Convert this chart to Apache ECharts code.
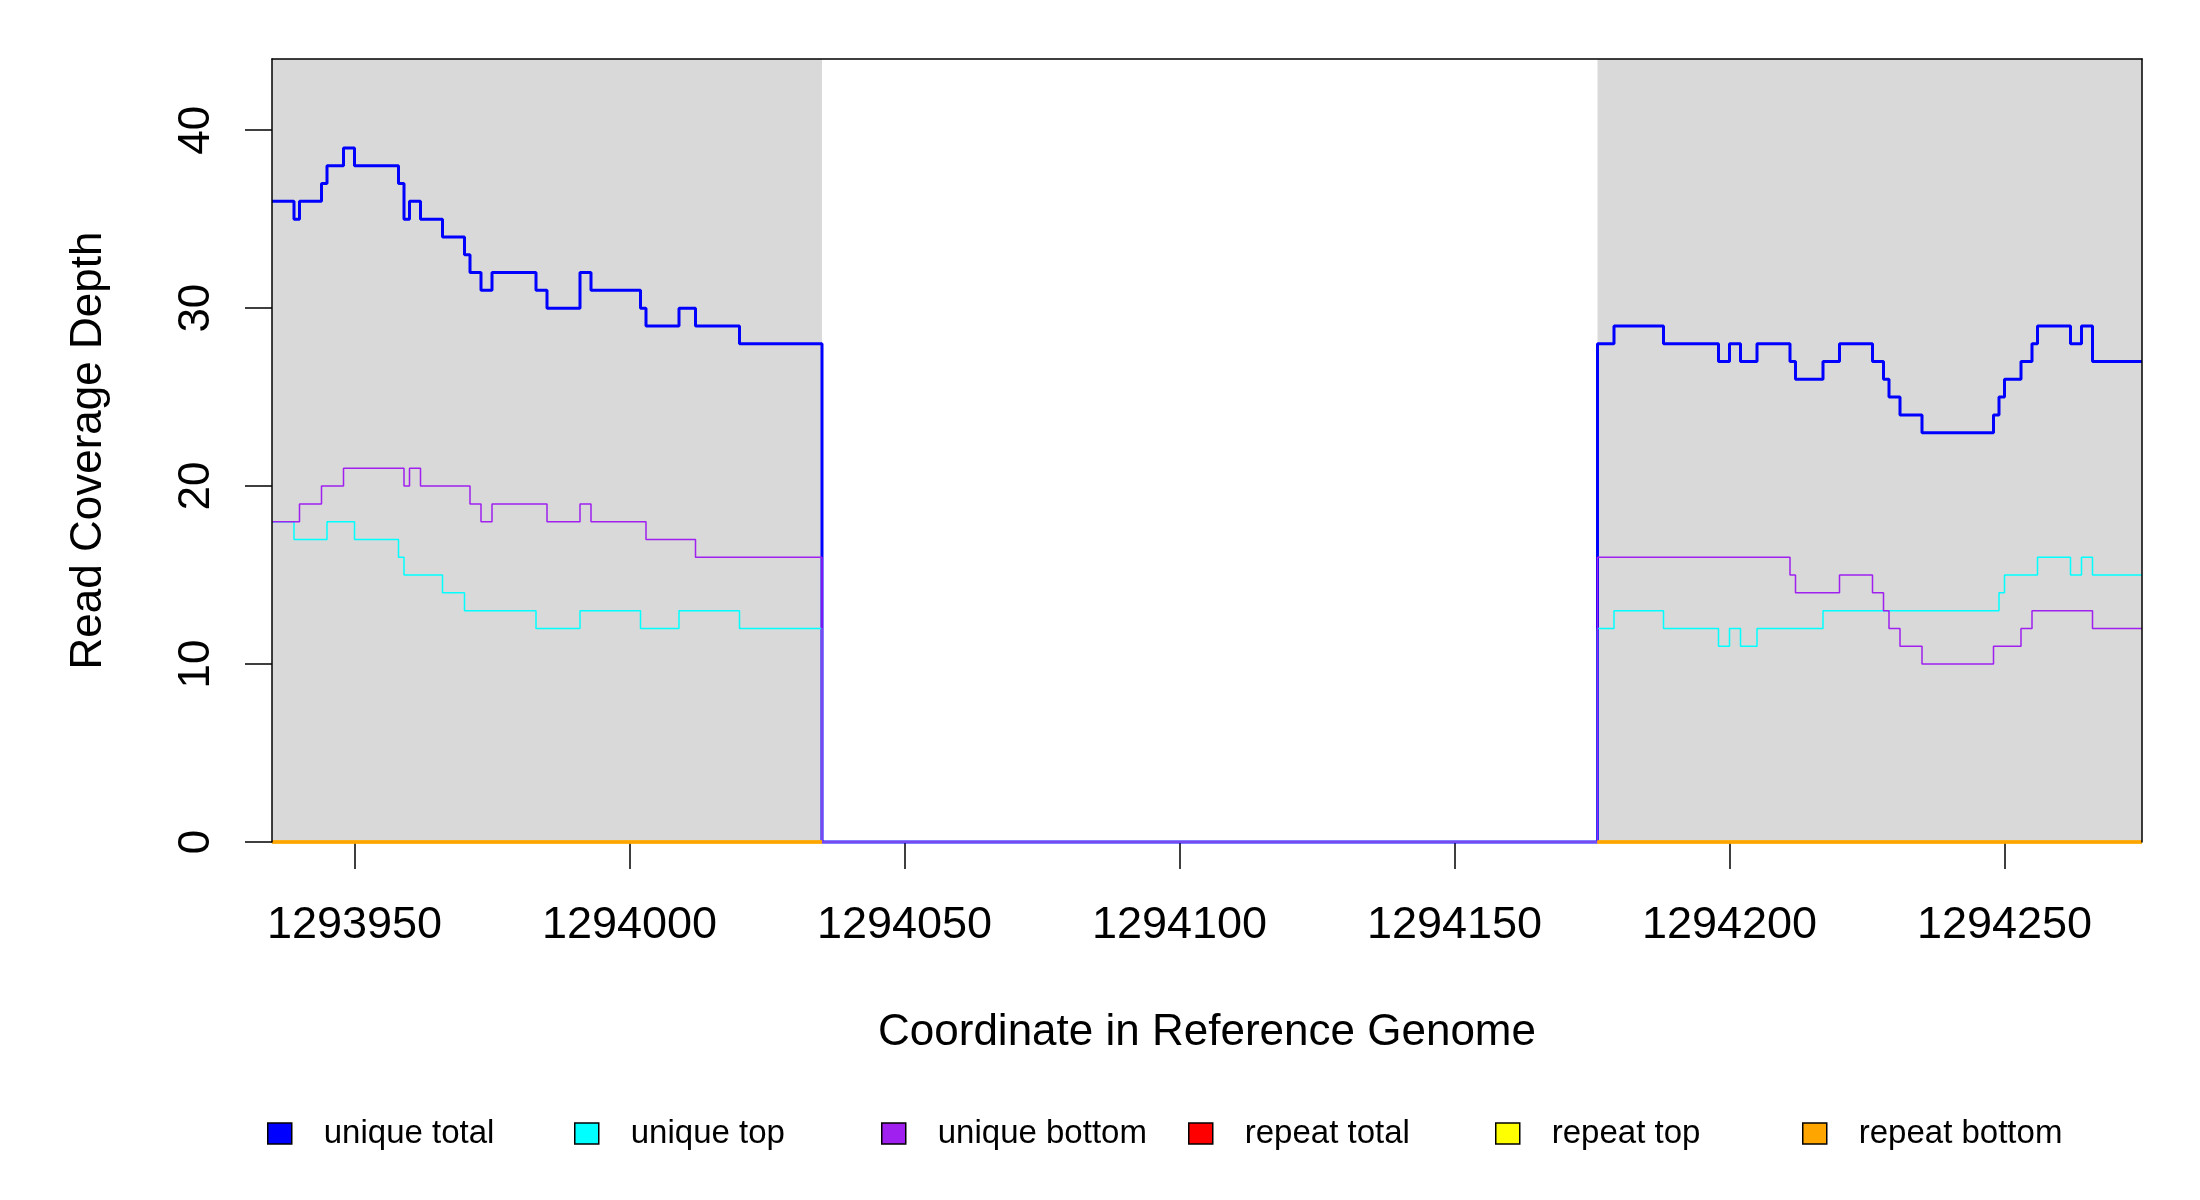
<!DOCTYPE html>
<html>
<head>
<meta charset="utf-8">
<title>Read Coverage Depth</title>
<script src="https://cdn.jsdelivr.net/npm/echarts@6/dist/echarts.min.js"></script>
<style>
  html, body { margin: 0; padding: 0; background: #fff; }
  #chart { width: 2200px; height: 1200px; }
</style>
</head>
<body>
<div id="chart"></div>
<script>
// coverage steps: position where the value starts, value from there on
const totalX = [1293935, 1293939, 1293940, 1293944, 1293945, 1293948, 1293950, 1293958, 1293959, 1293960,
  1293962, 1293966, 1293970, 1293971, 1293973, 1293975, 1293983, 1293985, 1293991, 1293993,
  1294002, 1294003, 1294009, 1294012, 1294020, 1294035, 1294176, 1294179, 1294188, 1294198,
  1294200, 1294202, 1294205, 1294211, 1294212, 1294217, 1294220, 1294226, 1294228, 1294229,
  1294231, 1294235, 1294248, 1294249, 1294250, 1294253, 1294255, 1294256, 1294262, 1294264,
  1294266, 1294275]
const totalY = [36, 35, 36, 37, 38, 39, 38, 37, 35, 36,
  35, 34, 33, 32, 31, 32, 31, 30, 32, 31,
  30, 29, 30, 29, 28, 0, 28, 29, 28, 27,
  28, 27, 28, 27, 26, 27, 28, 27, 26, 25,
  24, 23, 24, 25, 26, 27, 28, 29, 28, 29,
  27, 27]

const topX = [1293935, 1293939, 1293945, 1293950, 1293958, 1293959, 1293966, 1293970, 1293983, 1293991,
  1294002, 1294009, 1294020, 1294035, 1294176, 1294179, 1294188, 1294198, 1294200, 1294202,
  1294205, 1294217, 1294249, 1294250, 1294256, 1294262, 1294264, 1294266, 1294275]
const topY = [18, 17, 18, 17, 16, 15, 14, 13, 12, 13,
  12, 13, 12, 0, 12, 13, 12, 11, 12, 11,
  12, 13, 14, 15, 16, 15, 16, 15, 15]

const bottomX = [1293935, 1293940, 1293944, 1293948, 1293959, 1293960, 1293962, 1293971, 1293973, 1293975,
  1293985, 1293991, 1293993, 1294003, 1294012, 1294035, 1294176, 1294211, 1294212, 1294220,
  1294226, 1294228, 1294229, 1294231, 1294235, 1294248, 1294253, 1294255, 1294266, 1294275]
const bottomY = [18, 19, 20, 21, 20, 21, 20, 19, 18, 19,
  18, 19, 18, 17, 16, 0, 16, 15, 14, 15,
  14, 13, 12, 11, 10, 11, 12, 13, 12, 12]

// repeat reads: only defined inside the covered regions ('-' = gap)
const repeatX = [1293935, 1294035, 1294035, 1294176, 1294275]
const repeatTotal = [0, 0, '-', 0, 0]
const repeatTop = [0, 0, '-', 0, 0]
const repeatBottom = [0, 0, '-', 0, 0]

// shaded (covered) regions
const shadeStart = [1293935, 1294176]
const shadeEnd = [1294035, 1294275]

const xTicks = [1293950, 1294000, 1294050, 1294100, 1294150, 1294200, 1294250]
const yTicks = [0, 10, 20, 30, 40]

const seriesNames = ['unique total', 'unique top', 'unique bottom', 'repeat total', 'repeat top', 'repeat bottom']
const seriesColors = ['#0000ff', '#00ffff', '#a020f0', '#ff0000', '#ffff00', '#ffa500']

const FONT = '"Liberation Sans", Arial, sans-serif'

function pairs(xs, ys) {
    return xs.map((x, i) => [x, ys[i]])
}

function stepLine(name, idx, data, width) {
    return {
        name: name,
        type: 'line',
        step: 'end',
        data: data,
        symbol: 'none',
        showSymbol: false,
        silent: true,
        clip: false,
        connectNulls: false,
        color: seriesColors[idx],
        lineStyle: { color: seriesColors[idx], width: width },
        z: 2 + idx * 0.1
    }
}

// one side of the plot box, drawn above the grey shading
function boxSide(extra) {
    return Object.assign({
        type: 'value',
        z: 5,
        axisLine: { show: true, onZero: false, lineStyle: { color: '#000', width: 1.5 } },
        axisTick: { show: false },
        axisLabel: { show: false },
        splitLine: { show: false }
    }, extra)
}

const chart = echarts.init(document.getElementById('chart'))

const totalSeries = stepLine(seriesNames[0], 0, pairs(totalX, totalY), 3)
totalSeries.markArea = {
    silent: true,
    itemStyle: { color: '#d9d9d9', opacity: 1 },
    data: shadeStart.map((s, i) => [{ xAxis: s }, { xAxis: shadeEnd[i] }])
}

const option = {
    animation: false,
    backgroundColor: '#ffffff',
    grid: { left: 272, right: 58, top: 59, bottom: 358 },
    legend: seriesNames.map((name, i) => ({
        data: [{ name: name, itemStyle: { color: seriesColors[i], borderColor: '#000', borderWidth: 1.5 } }],
        left: 262 + i * 307,
        top: 1112,
        icon: 'rect',
        itemWidth: 24,
        itemHeight: 21,
        selectedMode: false,
        textStyle: { fontFamily: FONT, fontSize: 33, color: '#000', padding: [0, 0, 0, 27] }
    })),
    xAxis: [
        {
            type: 'value',
            min: 1293935,
            max: 1294275,
            name: 'Coordinate in Reference Genome',
            nameLocation: 'middle',
            nameGap: 169,
            nameTextStyle: { fontFamily: FONT, fontSize: 44, color: '#000' },
            // the bottom edge of the box is hidden under the zero lines
            axisLine: { show: false, onZero: false },
            axisTick: { show: true, length: 27, customValues: xTicks, lineStyle: { color: '#000', width: 1.5 } },
            axisLabel: {
                customValues: xTicks,
                margin: 61,
                fontFamily: FONT,
                fontSize: 45,
                color: '#000',
                formatter: (v) => String(v)
            },
            splitLine: { show: false }
        },
        boxSide({ position: 'top', min: 1293935, max: 1294275 })
    ],
    yAxis: [
        {
            type: 'value',
            min: 0,
            max: 44,
            z: 5,
            name: 'Read Coverage Depth',
            nameLocation: 'middle',
            nameGap: 161,
            nameTextStyle: { fontFamily: FONT, fontSize: 44, color: '#000' },
            axisLine: { show: true, onZero: false, lineStyle: { color: '#000', width: 1.5 } },
            axisTick: { show: true, length: 27, customValues: yTicks, lineStyle: { color: '#000', width: 1.5 } },
            axisLabel: { customValues: yTicks, rotate: 90, margin: 53, fontFamily: FONT, fontSize: 44, color: '#000' },
            splitLine: { show: false }
        },
        boxSide({ position: 'right', min: 0, max: 44 })
    ],
    series: [
        totalSeries,
        stepLine(seriesNames[1], 1, pairs(topX, topY), 1.5),
        stepLine(seriesNames[2], 2, pairs(bottomX, bottomY), 1.5),
        stepLine(seriesNames[3], 3, pairs(repeatX, repeatTotal), 3),
        stepLine(seriesNames[4], 4, pairs(repeatX, repeatTop), 3),
        stepLine(seriesNames[5], 5, pairs(repeatX, repeatBottom), 3)
    ]
}

chart.setOption(option)
</script>
</body>
</html>
